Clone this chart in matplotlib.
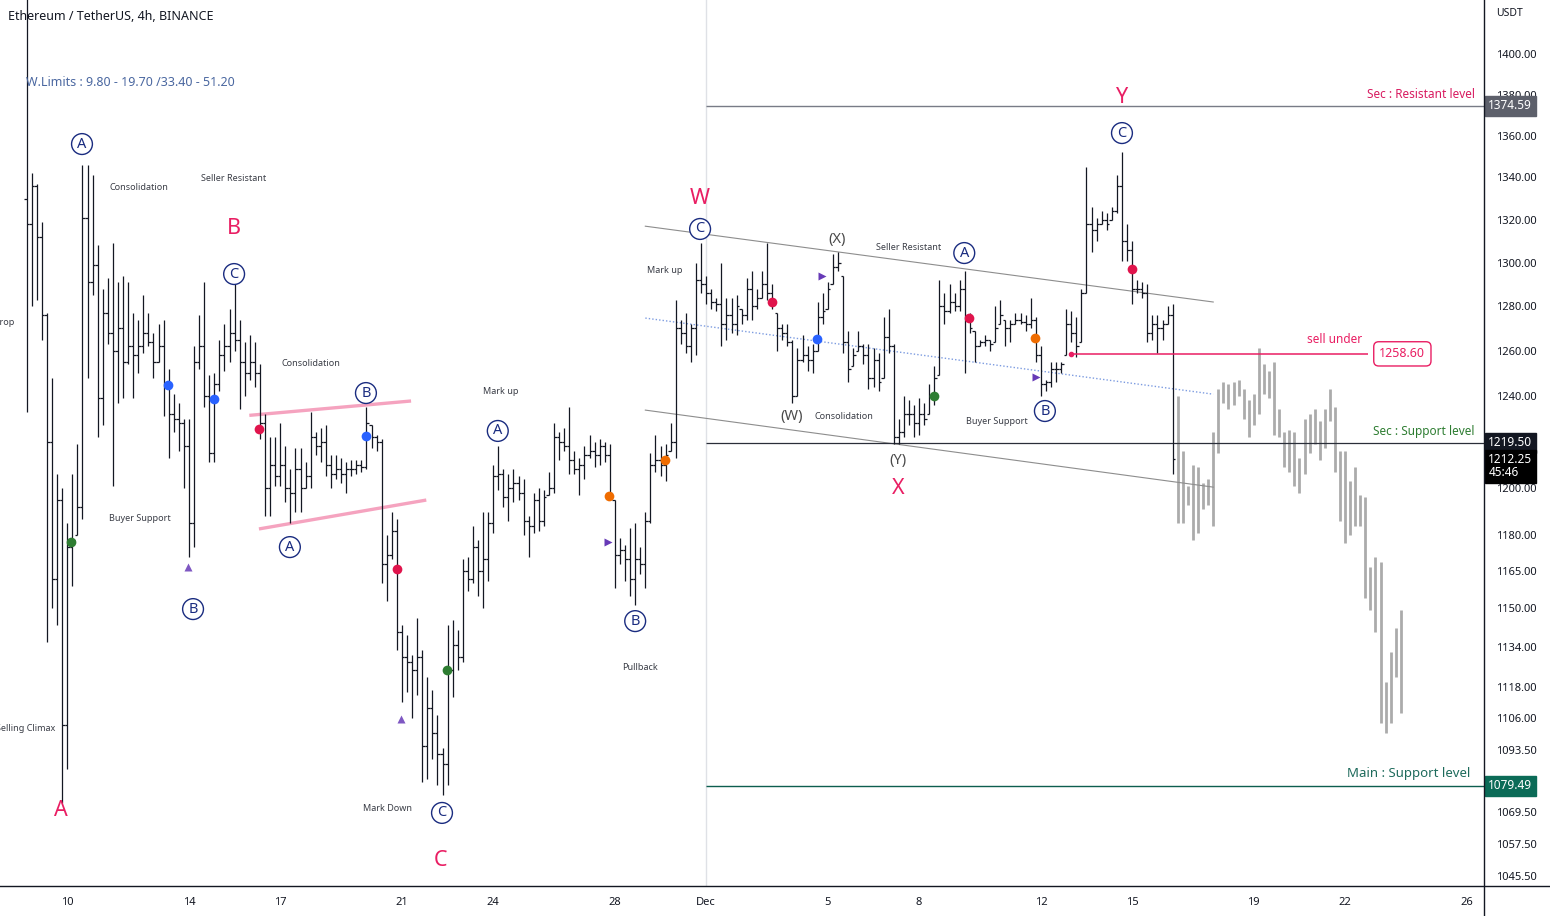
import numpy as np
import matplotlib
matplotlib.use('Agg')
import matplotlib.pyplot as plt
from matplotlib.lines import Line2D
from matplotlib.ticker import NullLocator, NullFormatter

plt.rcParams['font.family'] = ['Noto Sans', 'DejaVu Sans']

# 4h bars, index 0 = Nov 8 16:00
highs = [
    1450, 1342, 1337, 1319, 1277, 1248, 1206, 1200, 1185, 1206,
    1219, 1346, 1346, 1341, 1308, 1288, 1293, 1309, 1291, 1294,
    1291, 1277, 1274, 1285, 1277, 1268, 1272, 1274, 1252, 1241,
    1237, 1230, 1230, 1262, 1276, 1291, 1249, 1250, 1265, 1272,
    1279, 1290, 1274, 1264, 1267, 1264, 1254, 1232, 1222, 1222,
    1228, 1218, 1208, 1217, 1217, 1211, 1233, 1224, 1226, 1227,
    1214, 1214, 1213, 1211, 1212, 1212, 1212, 1235, 1227, 1223,
    1221, 1180, 1190, 1187, 1143, 1139, 1131, 1146, 1133, 1122,
    1117, 1107, 1094, 1143, 1145, 1141, 1170, 1171, 1184, 1178,
    1190, 1190, 1210, 1218, 1208, 1206, 1208, 1205, 1204, 1188,
    1198, 1200, 1199, 1207, 1228, 1224, 1226, 1235, 1216, 1213,
    1218, 1223, 1220, 1221, 1220, 1219, 1195, 1179, 1176, 1183,
    1185, 1175, 1190, 1215, 1223, 1218, 1219, 1228, 1283, 1274,
    1277, 1272, 1300, 1309, 1294, 1288, 1284, 1300, 1284, 1284,
    1285, 1279, 1293, 1296, 1288, 1296, 1309, 1290, 1277, 1272,
    1272, 1265, 1261, 1267, 1262, 1263, 1282, 1286, 1291, 1304,
    1305, 1294, 1269, 1261, 1269, 1263, 1263, 1261, 1259, 1275,
    1279, 1263, 1230, 1240, 1238, 1236, 1239, 1237, 1245, 1253,
    1292, 1286, 1290, 1286, 1292, 1296, 1277, 1269, 1265, 1267,
    1265, 1280, 1283, 1274, 1274, 1277, 1277, 1276, 1284, 1275,
    1262, 1247, 1255, 1255, 1255, 1279, 1278, 1275, 1288, 1345,
    1326, 1321, 1324, 1323, 1326, 1341, 1352, 1318, 1310, 1292,
    1291, 1290, 1276, 1276, 1274, 1280, 1281,
]
lows = [
    1233, 1280, 1283, 1265, 1136, 1150, 1143, 1073, 1086, 1159,
    1180, 1187, 1248, 1285, 1222, 1227, 1263, 1201, 1237, 1239,
    1254, 1239, 1250, 1259, 1262, 1248, 1255, 1231, 1213, 1224,
    1216, 1200, 1171, 1175, 1252, 1235, 1211, 1211, 1242, 1251,
    1255, 1260, 1234, 1240, 1247, 1244, 1221, 1188, 1188, 1201,
    1201, 1194, 1185, 1190, 1190, 1200, 1200, 1214, 1211, 1205,
    1200, 1204, 1202, 1198, 1205, 1206, 1207, 1208, 1217, 1216,
    1160, 1153, 1170, 1133, 1112, 1116, 1106, 1115, 1081, 1082,
    1090, 1080, 1076, 1080, 1114, 1125, 1128, 1157, 1160, 1155,
    1150, 1161, 1181, 1199, 1192, 1186, 1194, 1195, 1180, 1171,
    1181, 1182, 1184, 1197, 1198, 1212, 1216, 1206, 1206, 1197,
    1204, 1213, 1209, 1210, 1211, 1195, 1158, 1168, 1161, 1155,
    1151, 1164, 1158, 1185, 1207, 1205, 1203, 1216, 1213, 1263,
    1259, 1255, 1258, 1286, 1281, 1279, 1278, 1262, 1265, 1268,
    1267, 1272, 1274, 1274, 1279, 1284, 1283, 1279, 1260, 1265,
    1262, 1237, 1240, 1255, 1251, 1250, 1260, 1272, 1279, 1290,
    1296, 1259, 1246, 1253, 1260, 1254, 1243, 1244, 1242, 1248,
    1259, 1219, 1219, 1222, 1227, 1222, 1223, 1227, 1232, 1236,
    1249, 1272, 1277, 1278, 1278, 1250, 1268, 1255, 1262, 1262,
    1260, 1264, 1272, 1262, 1264, 1272, 1272, 1269, 1270, 1255,
    1240, 1242, 1244, 1246, 1250, 1258, 1264, 1257, 1264, 1286,
    1305, 1310, 1318, 1315, 1320, 1323, 1301, 1301, 1281, 1286,
    1284, 1264, 1265, 1259, 1265, 1272, 1206,
]
closes = [
    1318, 1336, 1312, 1276, 1220, 1162, 1195, 1103, 1175, 1178,
    1192, 1321, 1291, 1299, 1239, 1277, 1268, 1260, 1270, 1255,
    1262, 1258, 1262, 1268, 1264, 1255, 1262, 1245, 1232, 1230,
    1228, 1218, 1185, 1255, 1262, 1240, 1215, 1245, 1258, 1262,
    1268, 1265, 1255, 1250, 1255, 1250, 1228, 1200, 1210, 1205,
    1210, 1200, 1198, 1208, 1200, 1205, 1222, 1218, 1220, 1210,
    1206, 1208, 1206, 1208, 1208, 1210, 1209, 1228, 1222, 1220,
    1168, 1172, 1182, 1140, 1130, 1128, 1125, 1130, 1095, 1110,
    1100, 1092, 1088, 1125, 1135, 1130, 1165, 1162, 1175, 1165,
    1170, 1185, 1205, 1206, 1196, 1200, 1202, 1198, 1186, 1184,
    1195, 1186, 1196, 1200, 1222, 1220, 1218, 1212, 1208, 1210,
    1214, 1216, 1214, 1218, 1214, 1198, 1172, 1174, 1170, 1162,
    1170, 1168, 1186, 1210, 1212, 1210, 1214, 1220, 1270, 1268,
    1262, 1270, 1292, 1290, 1286, 1282, 1281, 1272, 1276, 1272,
    1280, 1276, 1288, 1280, 1284, 1290, 1286, 1282, 1270, 1268,
    1264, 1240, 1256, 1258, 1256, 1260, 1275, 1278, 1288, 1298,
    1300, 1264, 1252, 1258, 1262, 1258, 1248, 1256, 1246, 1266,
    1262, 1222, 1224, 1232, 1232, 1228, 1232, 1230, 1240, 1248,
    1280, 1278, 1282, 1280, 1288, 1274, 1270, 1262, 1264, 1265,
    1263, 1270, 1276, 1270, 1272, 1274, 1273, 1272, 1274, 1258,
    1245, 1246, 1252, 1252, 1254, 1272, 1268, 1262, 1286, 1318,
    1315, 1318, 1320, 1318, 1324, 1336, 1310, 1306, 1288, 1288,
    1286, 1268, 1272, 1270, 1272, 1276, 1212.25,
]
first_open = 1330

# projected (ghost) bars
ghost_highs = [1240, 1216, 1201, 1210, 1209, 1202, 1204, 1224, 1243, 1246,
               1245, 1246, 1247, 1243, 1238, 1241, 1261, 1254, 1251, 1255,
               1234, 1224, 1225, 1224, 1213, 1230, 1232, 1234, 1229, 1234,
               1243, 1235, 1216, 1216, 1203, 1209, 1197, 1196, 1167, 1171,
               1169, 1120, 1132, 1142, 1149]
ghost_lows = [1185, 1185, 1193, 1178, 1181, 1191, 1193, 1184, 1215, 1237,
              1234, 1236, 1240, 1230, 1222, 1227, 1232, 1241, 1239, 1223,
              1222, 1209, 1207, 1201, 1198, 1206, 1215, 1219, 1212, 1217,
              1229, 1207, 1186, 1177, 1180, 1184, 1184, 1154, 1149, 1140,
              1104, 1100, 1104, 1122, 1108]

price_ticks = [1400, 1380, 1360, 1340, 1320, 1300, 1280, 1260, 1240, 1200,
               1180, 1165, 1150, 1134, 1118, 1106, 1093.5, 1081.5, 1069.5,
               1057.5, 1045.5]
date_pos = [8, 32, 50, 74, 92, 116, 134, 158, 176, 200, 218, 242, 260, 284]
date_labels = ['10', '14', '17', '21', '24', '28', 'Dec', '5', '8', '12',
               '15', '19', '22', '26']

wave_labels = [('A', 6.8, 1070.3), ('B', 40.9, 1315.7), ('C', 81.7, 1051.1),
               ('W', 132.8, 1329.8), ('X', 171.8, 1200.0), ('Y', 216.0, 1378.4)]
circle_labels = [('A', 10.9, 1356.0), ('B', 32.8, 1149.5), ('C', 40.9, 1294.8),
                 ('A', 51.9, 1175.1), ('B', 66.9, 1241.2), ('C', 81.9, 1069.2),
                 ('A', 92.9, 1224.6), ('B', 120.0, 1144.6), ('C', 132.8, 1315.7),
                 ('A', 184.9, 1304.5), ('B', 200.8, 1233.3), ('C', 216.0, 1361.3)]
sub_labels = [('(W)', 150.9, 1231.0), ('(X)', 159.8, 1311.0), ('(Y)', 171.8, 1212.0)]
notes = [('Consolidation', 22.2, 1335.0), ('Seller Resistant', 40.9, 1339.3),
         ('Buyer Support', 22.4, 1186.9), ('Consolidation', 56.1, 1254.5),
         ('Mark up', 93.5, 1242.0), ('Mark Down', 71.1, 1070.7),
         ('Pullback', 121.0, 1126.0), ('Mark up', 125.9, 1296.6),
         ('Seller Resistant', 174.0, 1307.3), ('Consolidation', 161.2, 1230.7),
         ('Buyer Support', 191.4, 1228.5)]
edge_notes = [('Drop', -2.5, 1272.9), ('Selling Climax', 5.6, 1101.9)]

dots = [(8.7, 1177.2, '#2e7d32'), (27.9, 1244.8, '#2962ff'), (37.0, 1238.5, '#2962ff'),
        (45.8, 1225.4, '#e0144c'), (66.9, 1222.4, '#2962ff'), (73.0, 1165.9, '#e0144c'),
        (82.9, 1124.8, '#2e7d32'), (114.8, 1196.6, '#ef6c00'), (125.9, 1212.0, '#ef6c00'),
        (147.0, 1282.0, '#e0144c'), (155.9, 1265.3, '#2962ff'), (178.9, 1239.9, '#2e7d32'),
        (185.9, 1274.7, '#e0144c'), (198.9, 1265.7, '#ef6c00'), (218.0, 1297.2, '#e0144c')]
up_marks = [(31.8, 1166.8), (73.8, 1105.5)]
right_marks = [(114.6, 1177.2), (156.9, 1293.9), (199.0, 1248.3)]

wedge_lines = [((43.9, 1231.4), (75.8, 1237.7)), ((45.8, 1182.7), (78.8, 1194.9))]
channel_lines = [((122, 1317.0), (234, 1282.0)), ((122, 1233.7), (234, 1200.4))]
mid_line = ((122, 1274.7), (234, 1240.7))

level_start = 134
sec_resist = 1374.59
sec_support = 1219.50
main_support = 1079.49
last_price = 1212.25
sell_under = 1258.60

W, H = 1550, 916
fig = plt.figure(figsize=(W / 100, H / 100), dpi=100)
ax = fig.add_axes([0, 30 / H, 1484 / W, 886 / H])
ax.set_yscale('log')
ax.set_ylim(1041.8, 1427.2)
ax.set_xlim(-5.27, 287.4)

for s in ['top', 'left', 'right', 'bottom']:
    ax.spines[s].set_visible(False)

ax.yaxis.tick_right()
ax.set_yticks(price_ticks)
ax.set_yticklabels(['%.2f' % p for p in price_ticks])
ax.yaxis.set_minor_locator(NullLocator())
ax.yaxis.set_minor_formatter(NullFormatter())
ax.tick_params(axis='y', length=0, pad=9, labelsize=8, labelcolor='#131722')
ax.set_xticks(date_pos)
ax.set_xticklabels(date_labels)
ax.tick_params(axis='x', length=0, pad=8, labelsize=8, labelcolor='#131722')

fig.add_artist(Line2D([1484 / W, 1484 / W], [0, 1], color='#131722', lw=1))
fig.add_artist(Line2D([0, 1], [30 / H, 30 / H], color='#131722', lw=1))

ax.axvline(level_start, color='#dfe1e6', lw=1, zorder=0)

# bars
x = np.arange(len(highs))
opens = np.clip(np.array([first_open] + closes[:-1]), lows, highs)
ax.vlines(x, lows, highs, color='#131722', lw=0.9, zorder=3)
ax.hlines(opens, x - 0.5, x, color='#131722', lw=0.9, zorder=3)
ax.hlines(closes, x, x + 0.5, color='#131722', lw=0.9, zorder=3)

gx = np.arange(len(highs), len(highs) + len(ghost_highs))
ax.vlines(gx, ghost_lows, ghost_highs, color='#ababab', lw=2.0, zorder=2)

# lines
for (x0, y0), (x1, y1) in wedge_lines:
    ax.plot([x0, x1], [y0, y1], color='#f5a3bf', lw=2.4, solid_capstyle='butt', zorder=2)
for (x0, y0), (x1, y1) in channel_lines:
    ax.plot([x0, x1], [y0, y1], color='#8d8d8d', lw=0.8, zorder=2)
ax.plot([mid_line[0][0], mid_line[1][0]], [mid_line[0][1], mid_line[1][1]],
        color='#7c9be0', lw=1, ls=(0, (1, 1.5)), zorder=2)

xr = ax.get_xlim()[1]
ax.hlines(sec_resist, level_start, xr, color='#787b86', lw=1, zorder=2)
ax.hlines(sec_support, level_start, xr, color='#2a2e39', lw=0.9, zorder=2)
ax.hlines(main_support, level_start, xr, color='#0d5e4f', lw=1, zorder=2)

ax.hlines(sell_under, 206, 264.6, color='#e91e63', lw=1.1, zorder=4)
ax.plot([206], [sell_under], 'o', color='#e91e63', ms=3, zorder=4)
ax.text(263.4, 1262, 'sell under', ha='right', va='bottom', color='#e91e63', fontsize=8.5)
ax.text(271.3, sell_under, '1258.60', ha='center', va='center', color='#e91e63', fontsize=9,
        bbox=dict(boxstyle='round,pad=0.45,rounding_size=0.4', fc='white', ec='#e91e63', lw=1),
        zorder=5)

yt = ax.get_yaxis_transform()
ax.text(0.9939, 1379.9, 'Sec : Resistant level', transform=yt, ha='right', va='center',
        color='#d81b60', fontsize=8.5)
ax.text(0.9939, 1224.2, 'Sec : Support level', transform=yt, ha='right', va='center',
        color='#2e7d32', fontsize=8.5)
ax.text(0.9906, 1084.1, 'Main : Support level', transform=yt, ha='right', va='center',
        color='#1e6b5c', fontsize=9.5)

# price boxes on the axis
def price_box(price, text, bg, dy=0):
    ax.annotate(text, xy=(1.0015, price), xycoords=yt, xytext=(1.5, dy),
                textcoords='offset points', ha='left', va='center', color='white',
                fontsize=8.5, fontweight='bold', linespacing=1.0,
                bbox=dict(boxstyle='square,pad=0.3', fc=bg, ec=bg), zorder=10,
                annotation_clip=False)

price_box(sec_resist, '1374.59', '#5d606b')
price_box(sec_support, '1219.50', '#131722')
price_box(last_price, '1212.25\n45:46', '#000000', dy=-5)
price_box(main_support, '1079.49', '#0b6b57')

# labels
for s, xi, p in wave_labels:
    ax.text(xi, p, s, ha='center', va='center', color='#e91e63', fontsize=15.5,
            fontweight='bold', zorder=6)
for s, xi, p in circle_labels:
    ax.text(xi, p, s, ha='center', va='center', color='#1a2c80', fontsize=10.5, zorder=6,
            bbox=dict(boxstyle='circle,pad=0.2', fc='white', ec='#1a2c80', lw=1))
for s, xi, p in sub_labels:
    ax.text(xi, p, s, ha='center', va='center', color='#4a4a4a', fontsize=10.5, zorder=6)
for s, xi, p in notes:
    ax.text(xi, p, s, ha='center', va='center', color='#3a3d46', fontsize=6.5, zorder=6)
for s, xi, p in edge_notes:
    ax.text(xi, p, s, ha='right', va='center', color='#3a3d46', fontsize=6.5, zorder=6)

for xi, p, c in dots:
    ax.plot([xi], [p], 'o', color=c, ms=7, mec='none', zorder=7)
for xi, p in up_marks:
    ax.plot([xi], [p], '^', color='#7e57c2', ms=5.5, mec='none', zorder=7)
for xi, p in right_marks:
    ax.plot([xi], [p], '>', color='#673ab7', ms=5.5, mec='none', zorder=7)

fig.text(8 / W, 1 - 16 / H, 'Ethereum / TetherUS, 4h, BINANCE', ha='left', va='center',
         fontsize=9, fontweight='bold', color='#131722')
fig.text(26 / W, 1 - 82 / H, 'W.Limits : 9.80 - 19.70 /33.40 - 51.20', ha='left',
         va='center', fontsize=9, fontweight='semibold', color='#4a67a0')
fig.text(1496 / W, 1 - 13 / H, 'USDT', ha='left', va='center', fontsize=7.5, color='#131722')

fig.savefig('out.png', dpi=100)
